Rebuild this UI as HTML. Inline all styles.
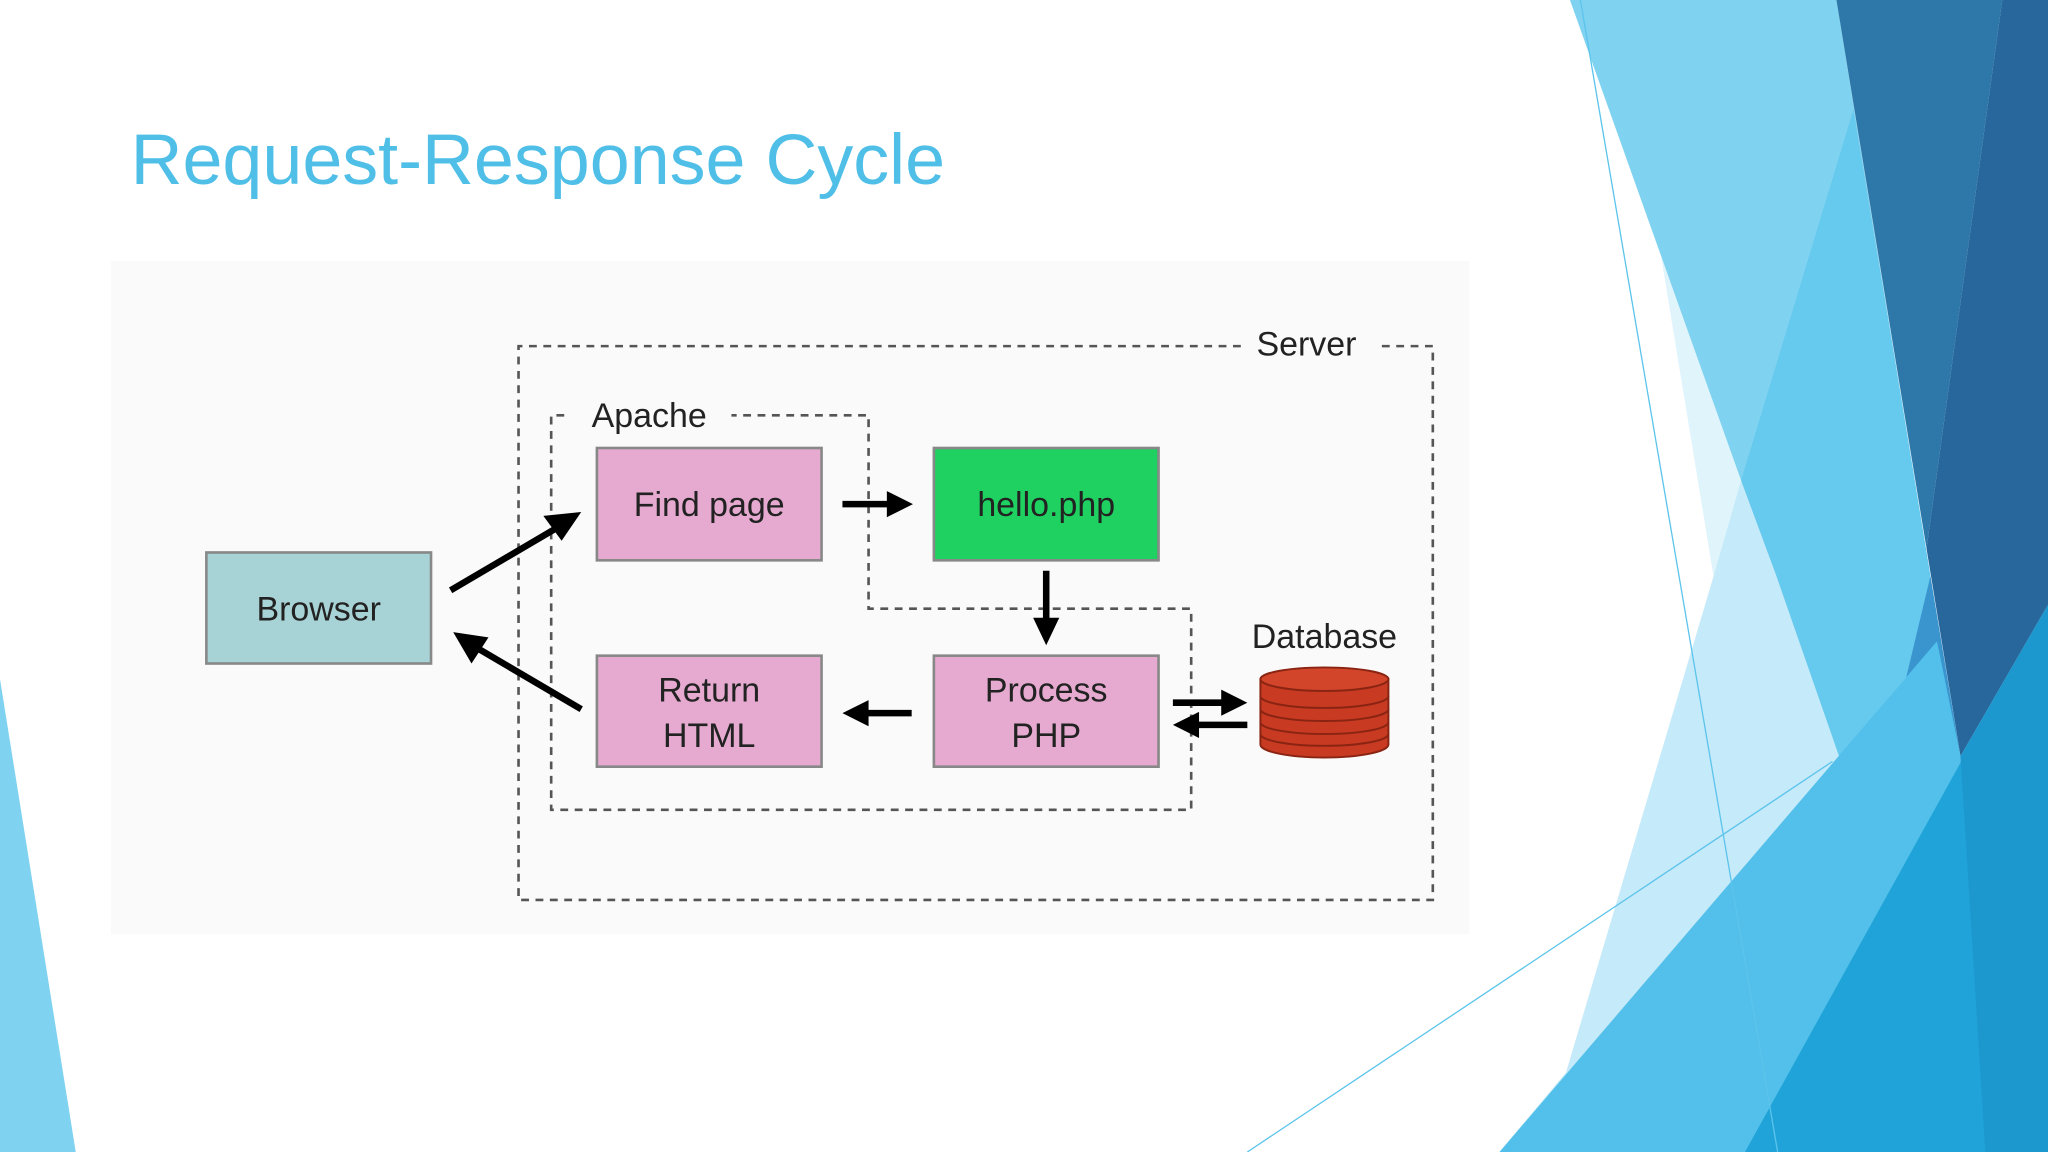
<!DOCTYPE html>
<html><head><meta charset="utf-8"><style>
html,body{margin:0;padding:0;background:#fff;}
svg{display:block;}
</style></head><body>
<svg width="2048" height="1152" viewBox="0 0 1568 882" xmlns="http://www.w3.org/2000/svg" font-family="Liberation Sans, Arial, sans-serif">
<rect width="1568" height="882" fill="#fff"/>
<polygon points="1202,0 1406,0 1478,441 1360,441 1333,368" fill="#80d2f1"/>
<polygon points="1419,84 1472,405 1478,441 1360,441 1333,368" fill="#66c9ee"/>
<polygon points="1272,197 1333,368 1360,441 1408,579 1483,491 1148,882 1199,821 1312,441" fill="#c5eaf9"/>
<polygon points="1272,197 1333,368 1312,441" fill="#e0f4fc"/>
<polygon points="1360,441 1478,441 1483,491 1408,579" fill="#66c9ee"/>
<polygon points="1406,0 1533,0 1475,420" fill="#2e78a9"/>
<polygon points="1533,0 1568,0 1568,463 1501,579 1475,420" fill="#27679c"/>
<polygon points="1478,441 1501,579 1426,711 1440,600" fill="#3a95cf"/>
<polygon points="1148,882 1483,491 1501,579 1568,463 1568,882" fill="#52c0ea"/>
<polygon points="1336,882 1568,463 1568,882" fill="#1fa3d8"/>
<polygon points="1501,579 1568,463 1568,882 1520,882" fill="#1c98cf"/>
<line x1="1210" y1="0" x2="1361" y2="882" stroke="#5cc4ec" stroke-width="1"/>
<line x1="955" y1="882" x2="1403" y2="583" stroke="#5cc4ec" stroke-width="1"/>
<polygon points="0,520 0,882 58,882" fill="#80d2f1"/>
<text x="100" y="141" font-size="55" fill="#4fbfe7">Request-Response Cycle</text>
<rect x="85" y="200" width="1040" height="515" fill="#fafafa"/>
<path d="M950,265 H397 V689 H1097 V265 H1055" fill="none" stroke="#555" stroke-width="2" stroke-dasharray="6,5"/>
<text x="962" y="272" font-size="26" fill="#222">Server</text>
<path d="M432,318 H422 V620 H912 V466 H665 V318 H560" fill="none" stroke="#555" stroke-width="2" stroke-dasharray="6,5"/>
<text x="453" y="327" font-size="26" fill="#222">Apache</text>
<g stroke="#888" stroke-width="2">
<rect x="158" y="423" width="172" height="85" fill="#a8d3d6"/>
<rect x="457" y="343" width="172" height="86" fill="#e6aad0"/>
<rect x="715" y="343" width="172" height="86" fill="#1fd160"/>
<rect x="457" y="502" width="172" height="85" fill="#e6aad0"/>
<rect x="715" y="502" width="172" height="85" fill="#e6aad0"/>
</g>
<g font-size="26" fill="#222" text-anchor="middle">
<text x="244" y="475">Browser</text>
<text x="543" y="395">Find page</text>
<text x="801" y="395">hello.php</text>
<text x="543" y="537">Return</text>
<text x="543" y="572">HTML</text>
<text x="801" y="537">Process</text>
<text x="801" y="572">PHP</text>
<text x="1014" y="496">Database</text>
</g>
<g stroke="#8a2412" stroke-width="1.5" fill="#c83a22">
<path d="M965,520 V570 A49,10 0 0 0 1063,570 V520 Z"/>
<ellipse cx="1014" cy="520" rx="49" ry="9" fill="#d2452b"/>
<path d="M965,533 A49,9 0 0 0 1063,533 M965,543 A49,9 0 0 0 1063,543 M965,553 A49,9 0 0 0 1063,553 M965,562 A49,9 0 0 0 1063,562" fill="none"/>
</g>
<g stroke="#000" stroke-width="5" fill="none">
<line x1="345" y1="452" x2="430" y2="402"/>
<line x1="445" y1="543" x2="360" y2="493"/>
<line x1="645" y1="386" x2="684" y2="386"/>
<line x1="801" y1="437" x2="801" y2="478"/>
<line x1="698" y1="546" x2="660" y2="546"/>
<line x1="898" y1="538" x2="940" y2="538"/>
<line x1="955" y1="555" x2="914" y2="555"/>
</g>
<g fill="#000">
<polygon points="445,392 416,395 430,414"/>
<polygon points="347,484 361,508 374,488"/>
<polygon points="699,386 679,376 679,396"/>
<polygon points="801,494 791,473 811,473"/>
<polygon points="645,546 665,536 665,556"/>
<polygon points="955,538 935,528 935,548"/>
<polygon points="898,555 918,545 918,565"/>
</g>
</svg>
</body></html>
